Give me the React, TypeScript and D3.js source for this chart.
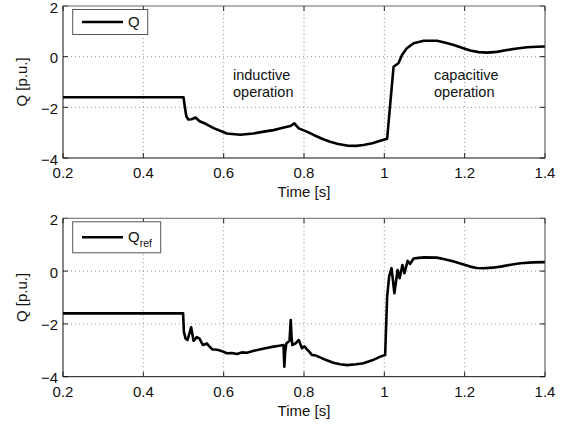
import React from "react";
import * as d3 from "d3";

const xTicks = [0.2, 0.4, 0.6, 0.8, 1, 1.2, 1.4];
const yTicks = [2, 0, -2, -4];
const xTickLabels = ["0.2", "0.4", "0.6", "0.8", "1", "1.2", "1.4"];
const yTickLabels = ["2", "0", "\u22122", "\u22124"];

const qTime = [0.2, 0.5, 0.503, 0.507, 0.512, 0.52, 0.53, 0.54, 0.555, 0.575, 0.608, 0.641, 0.674, 0.7, 0.724, 0.745, 0.766, 0.776, 0.787, 0.807, 0.824, 0.845, 0.865, 0.885, 0.907, 0.93, 0.948, 0.97, 0.99, 1.007, 1.015, 1.023, 1.035, 1.044, 1.056, 1.073, 1.098, 1.131, 1.15, 1.173, 1.195, 1.214, 1.235, 1.256, 1.28, 1.305, 1.33, 1.355, 1.38, 1.4];
const qValue = [-1.6, -1.6, -1.95, -2.35, -2.48, -2.47, -2.4, -2.55, -2.65, -2.82, -3.03, -3.08, -3.03, -2.96, -2.9, -2.82, -2.74, -2.63, -2.83, -2.96, -3.09, -3.24, -3.36, -3.45, -3.51, -3.52, -3.49, -3.42, -3.32, -3.24, -1.8, -0.4, -0.26, 0.07, 0.33, 0.53, 0.63, 0.63, 0.56, 0.46, 0.34, 0.24, 0.18, 0.16, 0.19, 0.26, 0.32, 0.37, 0.39, 0.4];

const qrefTime = [0.2, 0.499, 0.501, 0.505, 0.51, 0.515, 0.519, 0.525, 0.533, 0.54, 0.548, 0.558, 0.565, 0.571, 0.587, 0.6, 0.608, 0.62, 0.633, 0.645, 0.658, 0.675, 0.692, 0.71, 0.724, 0.738, 0.749, 0.751, 0.753, 0.756, 0.764, 0.767, 0.769, 0.771, 0.779, 0.787, 0.795, 0.801, 0.807, 0.813, 0.82, 0.83, 0.84, 0.855, 0.873, 0.89, 0.907, 0.93, 0.948, 0.97, 0.99, 1.002, 1.007, 1.012, 1.018, 1.025, 1.033, 1.038, 1.045, 1.05, 1.058, 1.064, 1.073, 1.085, 1.099, 1.131, 1.15, 1.173, 1.195, 1.214, 1.23, 1.247, 1.27, 1.289, 1.315, 1.339, 1.37, 1.4];
const qrefValue = [-1.6, -1.6, -2.3, -2.55, -2.61, -2.35, -2.13, -2.64, -2.5, -2.56, -2.8, -2.74, -2.86, -2.96, -2.99, -3.06, -3.11, -3.1, -3.14, -3.08, -3.09, -3.02, -2.96, -2.9, -2.86, -2.83, -2.8, -3.62, -3.1, -2.74, -2.64, -1.85, -2.5, -2.8, -2.74, -2.61, -2.92, -2.85, -2.96, -3.05, -3.18, -3.2, -3.27, -3.37, -3.47, -3.53, -3.56, -3.53, -3.49, -3.38, -3.24, -3.18, -0.97, -0.2, 0.11, -0.84, 0.04, -0.27, 0.23, -0.08, 0.39, 0.27, 0.48, 0.5, 0.52, 0.51, 0.45, 0.36, 0.26, 0.17, 0.12, 0.11, 0.13, 0.17, 0.24, 0.3, 0.33, 0.34];

const X0 = 63;
const X1 = 545;
const FONT = "'Liberation Sans', Arial, sans-serif";
const FS = 15;

type PanelProps = {
  top: number;
  bottom: number;
  times: number[];
  values: number[];
  legend: "Q" | "Qref";
  annotations: boolean;
};

function Panel({ top, bottom, times, values, legend, annotations }: PanelProps) {
  const x = d3.scaleLinear().domain([0.2, 1.4]).range([X0, X1]);
  const y = d3.scaleLinear().domain([-4, 2]).range([bottom, top]);
  const pts: [number, number][] = times.map((t, i) => [t, values[i]]);
  const line = d3
    .line<[number, number]>()
    .x((d) => x(d[0]))
    .y((d) => y(d[1]));
  const tickLen = 5;
  const legendTop = top + 3.5;
  const legendH = legend === "Q" ? 25 : 31;
  const legendW = legend === "Q" ? 75 : 88;
  const legendMid = legendTop + legendH / 2;
  return (
    <g>
      <rect x={X0} y={top} width={X1 - X0} height={bottom - top} fill="white" />
      {xTicks.slice(1, -1).map((t) => (
        <line key={"gx" + t} x1={x(t)} x2={x(t)} y1={top} y2={bottom} stroke="#7a7a7a" strokeWidth={0.8} strokeDasharray="1,3" />
      ))}
      {yTicks.slice(1, -1).map((v) => (
        <line key={"gy" + v} x1={X0} x2={X1} y1={y(v)} y2={y(v)} stroke="#7a7a7a" strokeWidth={0.8} strokeDasharray="1,3" />
      ))}
      {xTicks.map((t) => (
        <g key={"tx" + t}>
          <line x1={x(t)} x2={x(t)} y1={bottom} y2={bottom - tickLen} stroke="#222" strokeWidth={1} />
          <line x1={x(t)} x2={x(t)} y1={top} y2={top + tickLen} stroke="#222" strokeWidth={1} />
        </g>
      ))}
      {yTicks.map((v) => (
        <g key={"ty" + v}>
          <line x1={X0} x2={X0 + tickLen} y1={y(v)} y2={y(v)} stroke="#222" strokeWidth={1} />
          <line x1={X1} x2={X1 - tickLen} y1={y(v)} y2={y(v)} stroke="#222" strokeWidth={1} />
        </g>
      ))}
      <path d={line(pts) || ""} fill="none" stroke="black" strokeWidth={2.6} strokeLinejoin="round" />
      <line x1={X0} x2={X1} y1={top} y2={top} stroke="#666" strokeWidth={1} />
      <line x1={X1} x2={X1} y1={top} y2={bottom} stroke="#444" strokeWidth={1} />
      <line x1={X0} x2={X0} y1={top} y2={bottom} stroke="#111" strokeWidth={1} />
      <line x1={X0} x2={X1} y1={bottom} y2={bottom} stroke="#111" strokeWidth={1} />
      {xTicks.map((t, i) => (
        <text key={"lx" + t} x={x(t)} y={bottom + 20} textAnchor="middle" fontSize={FS} fontFamily={FONT} fill="#111">
          {xTickLabels[i]}
        </text>
      ))}
      {yTicks.map((v, i) => (
        <text key={"ly" + v} x={58} y={y(v) + 6.5} textAnchor="end" fontSize={FS} fontFamily={FONT} fill="#111">
          {yTickLabels[i]}
        </text>
      ))}
      <text x={(X0 + X1) / 2} y={bottom + 39} textAnchor="middle" fontSize={FS} fontFamily={FONT} fill="#111">
        Time [s]
      </text>
      <text
        transform={`translate(27,${(top + bottom) / 2}) rotate(-90)`}
        textAnchor="middle"
        fontSize={FS}
        fontFamily={FONT}
        fill="#111"
      >
        Q [p.u.]
      </text>
      <rect x={72.7} y={legendTop} width={legendW} height={legendH} fill="white" stroke="#555" strokeWidth={1} />
      <line x1={82} x2={123} y1={legendMid} y2={legendMid} stroke="black" strokeWidth={2.4} />
      <text x={128} y={legendMid + 5} fontSize={FS} fontFamily={FONT} fill="#111">
        Q
        {legend === "Qref" ? (
          <tspan fontSize={10.5} dy={5}>
            ref
          </tspan>
        ) : null}
      </text>
      {annotations ? (
        <g fontSize={14.5} fontFamily={FONT} fill="#111">
          <text x={233} y={80}>inductive</text>
          <text x={233} y={97}>operation</text>
          <text x={434} y={80}>capacitive</text>
          <text x={434} y={97}>operation</text>
        </g>
      ) : null}
    </g>
  );
}

export default function App() {
  return (
    <svg width={573} height={427} style={{ position: "absolute", left: 0, top: 0, background: "white" }}>
      <rect x={0} y={0} width={573} height={427} fill="white" />
      <Panel top={6} bottom={158} times={qTime} values={qValue} legend="Q" annotations={true} />
      <Panel top={218.3} bottom={376.7} times={qrefTime} values={qrefValue} legend="Qref" annotations={false} />
    </svg>
  );
}
